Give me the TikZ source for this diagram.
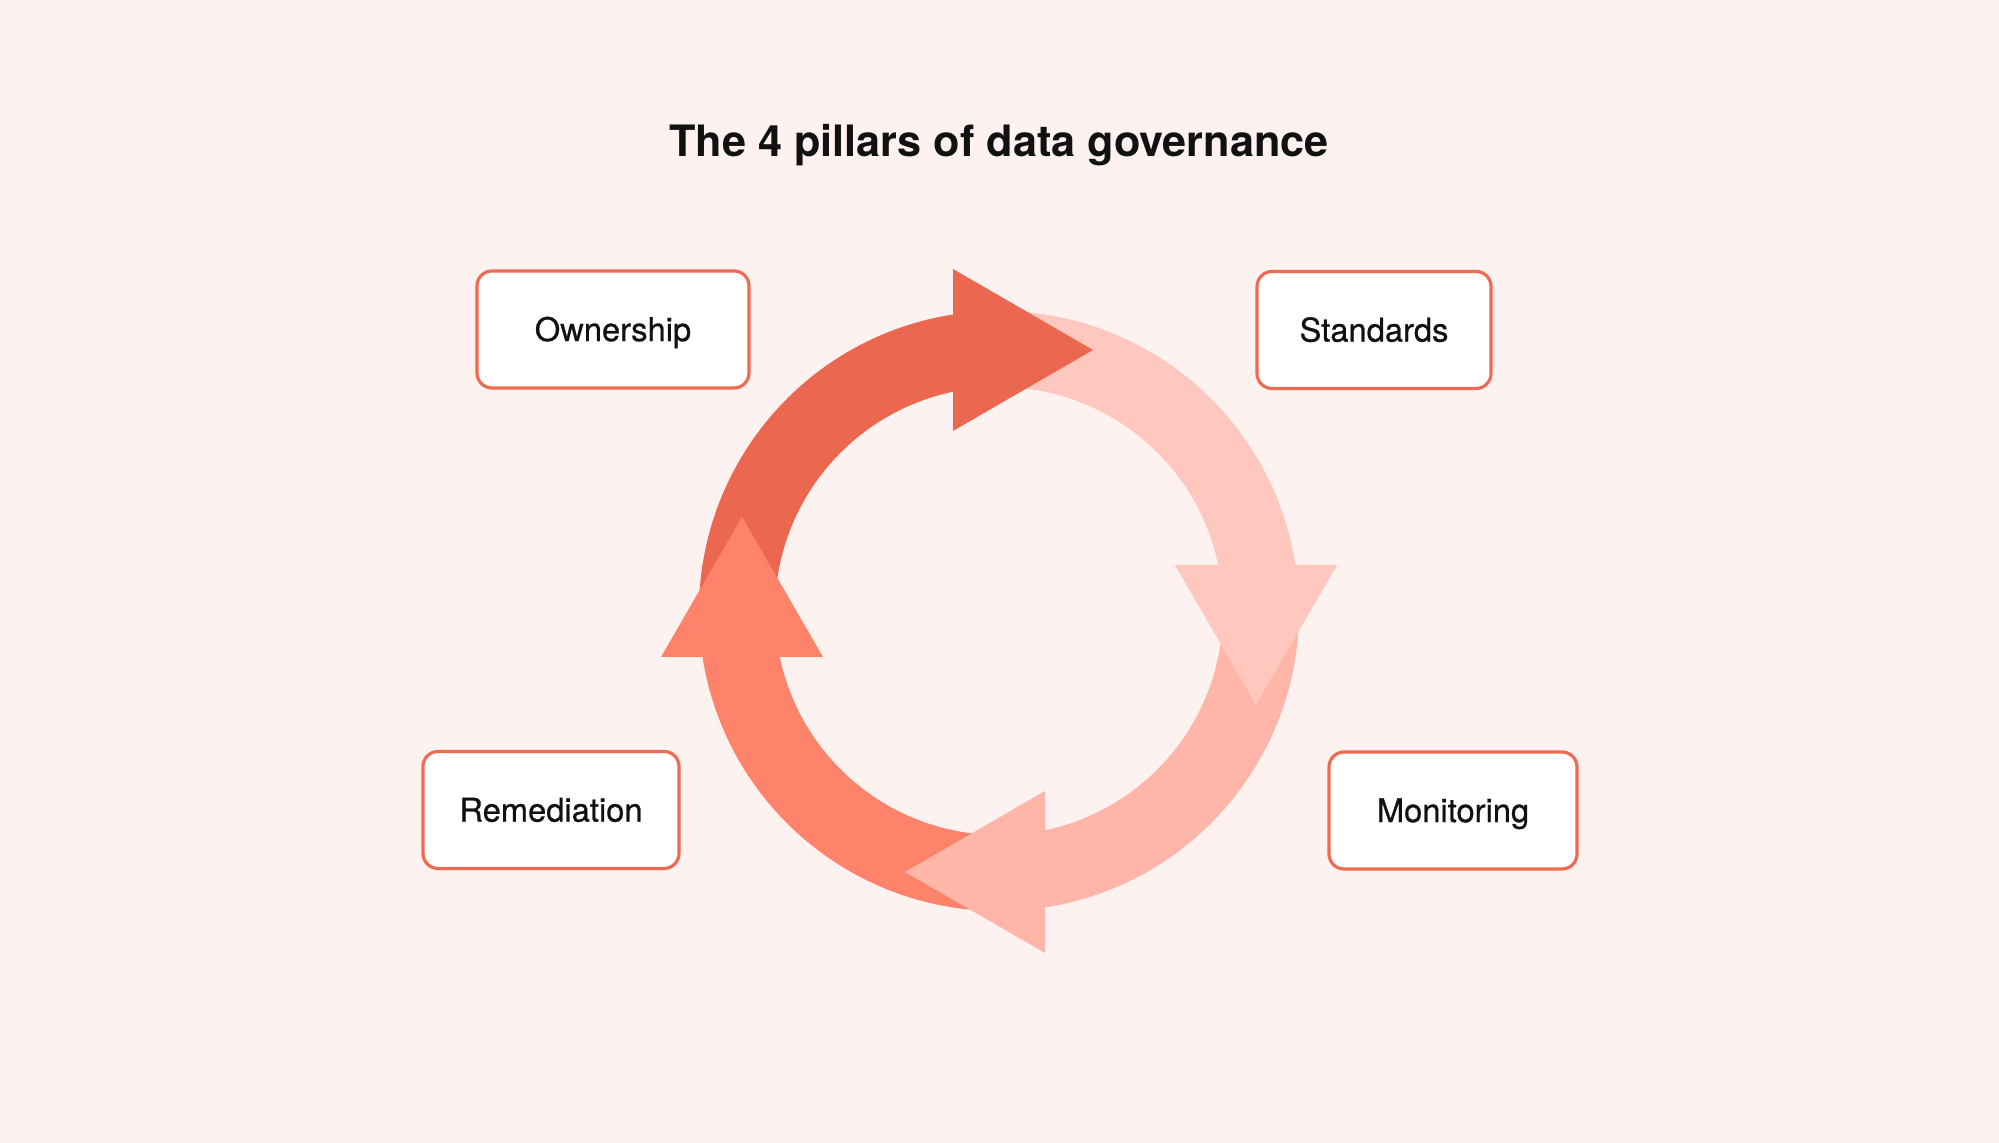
\documentclass[tikz,border=0pt]{standalone}
\usepackage{fontspec}
\setmainfont{TeX Gyre Heros}
\newfontfamily\pillarfont{TeX Gyre Heros}[FakeBold=0.7]
\usepackage{xcolor}
\definecolor{backg}{RGB}{254,242,240}
\definecolor{ownc}{RGB}{236,103,80}
\definecolor{stdc}{RGB}{255,199,189}
\definecolor{monc}{RGB}{255,182,169}
\definecolor{remc}{RGB}{255,130,107}
\definecolor{edge}{RGB}{238,106,82}
\definecolor{ink}{RGB}{17,17,17}
\usepackage{tikz}
\tikzstyle{ring} = [line width=7.6mm]
\tikzstyle{head} = [draw=none]
\tikzstyle{pillar} = [draw=edge,line width=0.9pt,fill=white,rounded corners=1.5mm,minimum height=11.7mm,inner sep=0pt,text height=6.6pt,text depth=0pt,text=ink,font=\pillarfont\fontsize{9.3}{11}\selectfont]

\begin{document}
\begin{tikzpicture}[x=0.1mm,y=0.1mm]
    \fill[backg] (0,0) rectangle (1999,1143);
    \coordinate (c) at (999,532);
    \node[anchor=base,text=ink,font=\fontsize{12.3}{15}\selectfont\bfseries] (title) at (999,986) {The 4 pillars of data governance};
    % ring pieces first, heads on top
    \foreach \rot/\col in {0/ownc,-90/stdc,-180/monc,-270/remc} {
        \path[ring,draw=\col] ([shift={(180+\rot:262)}]c) arc (180+\rot:97+\rot:262);
    }
    \foreach \rot/\col/\r in {0/ownc/261,-90/stdc/257,-180/monc/261,-270/remc/257} {
        \path[head,fill=\col,shift={(c)},rotate=\rot] (-46,\r-81) -- (-46,\r+81) -- (94,\r) -- cycle;
    }
    \node[pillar,minimum width=27.2mm] (own) at (613,813.5) {Ownership};
    \node[pillar,minimum width=23.4mm] (std) at (1374,813) {Standards};
    \node[pillar,minimum width=25.6mm] (rem) at (551,333) {Remediation};
    \node[pillar,minimum width=24.8mm] (mon) at (1453,332.5) {Monitoring};
\end{tikzpicture}
\end{document}
